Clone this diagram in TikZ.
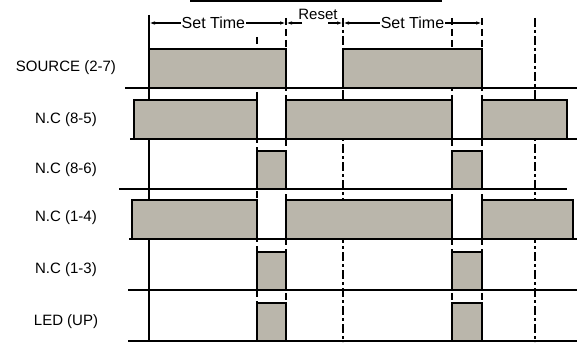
\documentclass[tikz,border=0pt]{standalone}
\usepackage{fontspec}
\setmainfont{Liberation Sans}
\usetikzlibrary{arrows.meta}
\definecolor{pulsegray}{RGB}{186,182,171}

\begin{document}
\begin{tikzpicture}[
    x=1pt, y=-1pt,
    pulse/.style={draw=black, fill=pulsegray, line width=2.2pt},
    baseline/.style={draw=black, line width=2.2pt},
    guide/.style={line width=2pt, dash pattern=on 7pt off 4pt},
    axisline/.style={line width=2pt, dash pattern=on 9pt off 3pt on 3pt off 3pt},
    lbl/.style={font=\fontsize{15}{18}\selectfont, inner sep=1pt},
    dim/.style={line width=1.3pt, {Latex[length=6pt,width=3.5pt]}-{Latex[length=6pt,width=3.5pt]}},
    halfdim/.style={line width=1.3pt, -{Latex[length=6pt,width=3.5pt]}}
]
  \useasboundingbox (0,0) rectangle (577,342);

  % Frame edge at the top
  \draw[line width=1.8pt] (190,0.9) -- (442,0.9);

  % Time marks on the dimension line
  \coordinate (t0) at (149,23);
  \coordinate (t2) at (286,23);
  \coordinate (t3) at (343,23);
  \coordinate (t5) at (482,23);
  \coordinate (r0) at (302,23);
  \coordinate (r1) at (328,23);

  % Guide lines through all rows
  \draw[line width=2.2pt] (149,15) -- (149,342);
  \draw[guide] (257,37) -- (257,342);
  \draw[guide] (286,18) -- (286,342);
  \draw[axisline] (343,18) -- (343,342);
  \draw[guide] (452,18) -- (452,342);
  \draw[guide] (482,18) -- (482,342);
  \draw[axisline] (535,18) -- (535,342);

  % Dimension arrows
  \draw[dim] (t0) -- node[lbl, fill=white, pos=0.47, font=\fontsize{16}{18}\selectfont] (set1) {Set Time} (t2);
  \draw[dim] (t3) -- node[lbl, fill=white, font=\fontsize{16}{18}\selectfont] (set2) {Set Time} (t5);
  \node[lbl] (reset) at (318,14) {Reset};
  \draw[halfdim] (r0) -- (t2);
  \draw[halfdim] (r1) -- (t3);

  % Row labels
  \node[lbl] (src)  at (66,68)  {SOURCE (2-7)};
  \node[lbl] (nc85) at (66,120) {N.C (8-5)};
  \node[lbl] (nc86) at (66,170) {N.C (8-6)};
  \node[lbl] (nc14) at (66,218) {N.C (1-4)};
  \node[lbl] (nc13) at (66,270) {N.C (1-3)};
  \node[lbl] (led)  at (66,322) {LED (UP)};

  % SOURCE (2-7)
  \draw[pulse] (149,88) -- (149,49) -- (286,49) -- (286,88);
  \draw[pulse] (343,88) -- (343,49) -- (482,49) -- (482,88);
  \draw[baseline] (125,88) -- (577,88);

  % N.C (8-5)
  \draw[pulse] (134,139) -- (134,100) -- (257,100) -- (257,139);
  \draw[pulse] (286,139) -- (286,100) -- (452,100) -- (452,139);
  \draw[pulse] (482,139) -- (482,100) -- (567,100) -- (567,139);
  \draw[baseline] (130,139) -- (577,139);

  % N.C (8-6)
  \draw[pulse] (257,189) -- (257,151) -- (286,151) -- (286,189);
  \draw[pulse] (452,189) -- (452,151) -- (482,151) -- (482,189);
  \draw[baseline] (119,189) -- (567,189);

  % N.C (1-4)
  \draw[pulse] (132,239) -- (132,200) -- (257,200) -- (257,239);
  \draw[pulse] (286,239) -- (286,200) -- (452,200) -- (452,239);
  \draw[pulse] (482,239) -- (482,200) -- (573,200) -- (573,239);
  \draw[baseline] (129,239) -- (577,239);

  % N.C (1-3)
  \draw[pulse] (257,290) -- (257,252) -- (286,252) -- (286,290);
  \draw[pulse] (452,290) -- (452,252) -- (482,252) -- (482,290);
  \draw[baseline] (128,290) -- (577,290);

  % LED (UP)
  \draw[pulse] (257,341) -- (257,303) -- (286,303) -- (286,341);
  \draw[pulse] (452,341) -- (452,303) -- (482,303) -- (482,341);
  \draw[baseline] (128,341) -- (577,341);
\end{tikzpicture}
\end{document}
